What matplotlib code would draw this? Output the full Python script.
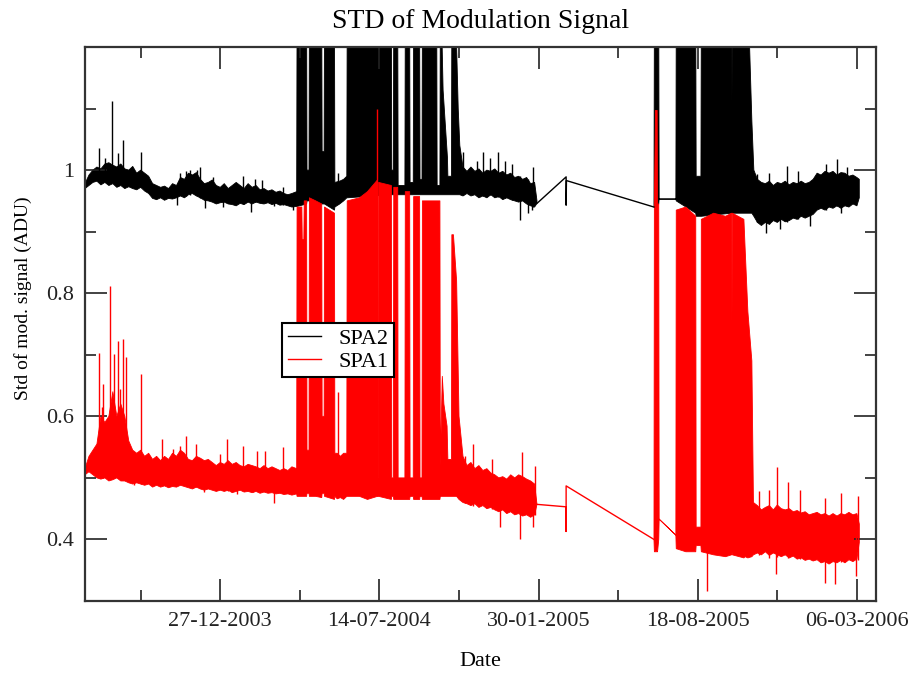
import numpy as np
import matplotlib
matplotlib.use('Agg')
import matplotlib.pyplot as plt
import matplotlib.dates as mdates
from matplotlib.ticker import FixedLocator, FuncFormatter

plt.rcParams['font.family'] = ['Liberation Serif', 'DejaVu Serif']

# all days are counted from 27-12-2003
base_date = '2003-12-27'
nan = np.nan

# SPA2: (day, low, high) of the noisy band, 1.25 = off the top of the plot
spa2_band = [
    (-170, 0.970, 0.978), (-165, 0.975, 0.992), (-160, 0.980, 1.000), (-155, 0.982, 1.005),
    (-150, 0.976, 1.002), (-145, 0.980, 1.010), (-140, 0.975, 1.012), (-135, 0.978, 1.008),
    (-130, 0.972, 1.005), (-125, 0.975, 1.010), (-120, 0.970, 1.002), (-115, 0.973, 1.000),
    (-110, 0.970, 1.006), (-105, 0.968, 0.995), (-100, 0.972, 1.000), (-95, 0.966, 0.995),
    (-90, 0.962, 0.990), (-85, 0.954, 0.978), (-80, 0.952, 0.975), (-75, 0.955, 0.972),
    (-70, 0.951, 0.974), (-65, 0.954, 0.970), (-60, 0.953, 0.978), (-55, 0.955, 0.975),
    (-50, 0.958, 0.988), (-45, 0.955, 0.985), (-40, 0.960, 0.995), (-35, 0.962, 0.992),
    (-30, 0.958, 0.996), (-25, 0.955, 0.985), (-20, 0.951, 0.978), (-15, 0.950, 0.980),
    (-10, 0.948, 0.984), (-5, 0.945, 0.975), (0, 0.947, 0.972), (5, 0.948, 0.978),
    (10, 0.945, 0.970), (15, 0.944, 0.975), (20, 0.942, 0.980), (25, 0.946, 0.975),
    (30, 0.944, 0.970), (35, 0.948, 0.978), (40, 0.945, 0.972), (45, 0.948, 0.975),
    (50, 0.946, 0.968), (55, 0.945, 0.970), (60, 0.947, 0.966), (65, 0.944, 0.968),
    (70, 0.946, 0.964), (75, 0.943, 0.966), (80, 0.944, 0.962), (85, 0.942, 0.960),
    (90, 0.940, 0.962), (96, 0.941, 0.965),
    (96.5, 0.941, 1.25), (108.5, 0.945, 1.25), (109, 0.950, 1.000), (111.5, 0.950, 1.000),
    (112, 0.950, 1.25), (127.5, 0.945, 1.25), (128, 0.945, 1.030), (130.5, 0.945, 1.030),
    (131, 0.945, 1.25), (143.5, 0.935, 1.25), (144, 0.940, 0.980), (150, 0.945, 0.982),
    (155, 0.950, 0.985), (159, 0.955, 0.990), (159.5, 0.955, 1.25), (215, 0.960, 1.25),
    (215.5, 0.960, 1.000), (217.5, 0.960, 1.000), (218, 0.960, 1.25), (223, 0.960, 1.25),
    (223.5, 0.960, 0.975), (232, 0.960, 0.975), (232.5, 0.960, 1.25), (238, 0.960, 1.25),
    (238.5, 0.960, 0.980), (242.5, 0.960, 0.980), (243, 0.960, 1.25), (250.5, 0.960, 1.25),
    (251, 0.960, 0.985), (253.5, 0.960, 0.985), (254, 0.960, 1.25), (272, 0.960, 1.25),
    (272.5, 0.960, 0.975), (276, 0.960, 0.975), (276.5, 0.960, 1.25), (278, 0.960, 1.25),
    (280, 0.960, 1.13), (284, 0.960, 1.05), (285.5, 0.960, 1.02), (286, 0.960, 0.990),
    (290.5, 0.960, 0.990), (291, 0.960, 1.25), (296, 0.960, 1.25), (299, 0.960, 1.10),
    (301, 0.960, 1.04),
    (305, 0.958, 1.005), (310, 0.962, 0.998), (315, 0.958, 1.005), (320, 0.960, 0.998),
    (325, 0.955, 1.002), (330, 0.958, 0.995), (335, 0.955, 1.000), (340, 0.960, 0.998),
    (345, 0.955, 1.002), (350, 0.957, 0.995), (355, 0.952, 0.998), (360, 0.955, 0.992),
    (365, 0.952, 0.995), (370, 0.950, 0.988), (375, 0.948, 0.990), (380, 0.950, 0.985),
    (385, 0.945, 0.988), (390, 0.942, 0.978), (395, 0.940, 0.980), (398, 0.946, 0.950),
    (470, nan, nan),
    (545, 0.940, 0.940), (545.5, 0.940, 1.25), (551, 0.945, 1.25), (551.5, 0.953, 0.953),
    (572.5, 0.953, 0.953), (573, 0.950, 1.25), (597.5, 0.930, 1.25), (598, 0.925, 0.990),
    (604, 0.925, 0.990), (604.5, 0.925, 1.25), (642.5, 0.930, 1.25), (643, 0.930, 1.105),
    (643.5, 0.930, 1.25), (664, 0.930, 1.25), (668, 0.930, 1.08), (670.5, 0.925, 1.000),
    (675, 0.915, 0.985), (680, 0.910, 0.980), (685, 0.915, 0.978), (690, 0.912, 0.982),
    (695, 0.918, 0.975), (700, 0.915, 0.980), (705, 0.920, 0.978), (710, 0.916, 0.982),
    (715, 0.918, 0.976), (720, 0.922, 0.980), (725, 0.920, 0.978), (730, 0.925, 0.982),
    (735, 0.922, 0.978), (740, 0.925, 0.980), (745, 0.928, 0.985), (750, 0.935, 0.995),
    (755, 0.938, 0.992), (760, 0.935, 0.998), (765, 0.940, 0.995), (770, 0.938, 0.998),
    (775, 0.942, 0.992), (780, 0.938, 0.996), (785, 0.942, 0.995), (790, 0.940, 0.990),
    (795, 0.945, 0.992), (800, 0.942, 0.988), (803, 0.955, 0.985),
]

# SPA2 single spikes: (day, low, high)
spa2_spikes = [
    (-153, 0.985, 1.036), (-145, 0.980, 1.020), (-136, 0.980, 1.112), (-128, 0.975, 1.028),
    (-122, 0.975, 1.049), (-100, 0.972, 1.030), (-54, 0.943, 0.970), (-50, 0.960, 0.995),
    (-43, 0.958, 0.998), (-38, 0.960, 1.000), (-29, 0.960, 1.000), (-25, 0.955, 1.005),
    (-19, 0.938, 0.970), (-9, 0.950, 0.989), (3, 0.940, 0.965), (29, 0.945, 0.990),
    (38, 0.932, 0.960), (44, 0.948, 0.985), (53, 0.947, 0.984), (67, 0.942, 0.965),
    (79, 0.944, 0.972), (92, 0.935, 0.960),
    (148, 0.945, 0.995), (305, 0.960, 1.030), (323, 0.958, 1.015), (330, 0.958, 1.030),
    (339, 0.960, 1.020), (349, 0.957, 1.030), (358, 0.955, 1.015), (367, 0.952, 1.010),
    (377, 0.919, 0.990), (387, 0.930, 0.985), (392, 0.935, 0.978), (393, 0.940, 1.005),
    (675, 0.915, 0.993), (686, 0.898, 0.975), (690, 0.912, 0.995), (703, 0.905, 0.975),
    (712, 0.916, 1.006), (726, 0.920, 0.998), (741, 0.910, 0.980), (761, 0.935, 1.010),
    (775, 0.942, 1.018), (780, 0.930, 0.990), (787, 0.942, 1.005),
]

# SPA2 straight stretch across the data gap
spa2_link_day = [398, 434.6, 434.6, 435, 545]
spa2_link_val = [0.946, 0.989, 0.943, 0.983, 0.940]

# SPA1: (day, low, high)
spa1_band = [
    (-170, 0.505, 0.515), (-165, 0.510, 0.535), (-160, 0.505, 0.545), (-155, 0.500, 0.555),
    (-150, 0.498, 0.600), (-145, 0.500, 0.590), (-140, 0.495, 0.600), (-135, 0.497, 0.640),
    (-130, 0.500, 0.600), (-125, 0.495, 0.620), (-120, 0.495, 0.600), (-115, 0.492, 0.560),
    (-110, 0.490, 0.545), (-105, 0.492, 0.540), (-100, 0.490, 0.545), (-95, 0.488, 0.535),
    (-90, 0.490, 0.540), (-85, 0.485, 0.530), (-80, 0.488, 0.535), (-75, 0.485, 0.528),
    (-70, 0.487, 0.535), (-65, 0.484, 0.530), (-60, 0.486, 0.540), (-55, 0.485, 0.535),
    (-50, 0.488, 0.545), (-45, 0.486, 0.540), (-40, 0.484, 0.530), (-35, 0.482, 0.528),
    (-30, 0.485, 0.535), (-25, 0.482, 0.532), (-20, 0.480, 0.528), (-15, 0.482, 0.530),
    (-10, 0.480, 0.525), (-5, 0.478, 0.520), (0, 0.480, 0.525), (5, 0.478, 0.522),
    (10, 0.480, 0.528), (15, 0.476, 0.522), (20, 0.478, 0.525), (25, 0.480, 0.520),
    (30, 0.477, 0.518), (35, 0.478, 0.522), (40, 0.476, 0.520), (45, 0.478, 0.518),
    (50, 0.475, 0.515), (55, 0.477, 0.520), (60, 0.475, 0.515), (65, 0.476, 0.518),
    (70, 0.474, 0.515), (75, 0.475, 0.512), (80, 0.473, 0.515), (85, 0.474, 0.512),
    (90, 0.472, 0.518), (96, 0.474, 0.515),
    (96.5, 0.470, 0.940), (102.5, 0.470, 0.940), (103, 0.470, 0.887), (105, 0.470, 0.887),
    (105.5, 0.470, 0.950), (108.5, 0.470, 0.950), (109, 0.475, 0.545), (111.5, 0.475, 0.545),
    (112, 0.470, 0.955), (120, 0.470, 0.950), (127.5, 0.468, 0.945), (128, 0.475, 0.600),
    (130.5, 0.475, 0.600), (131, 0.470, 0.940), (143.5, 0.465, 0.930), (144, 0.470, 0.540),
    (147, 0.466, 0.540), (151, 0.468, 0.535), (155, 0.465, 0.540), (159, 0.470, 0.540),
    (159.5, 0.470, 0.950), (175, 0.470, 0.955), (185, 0.465, 0.965), (197.5, 0.470, 0.984),
    (198, 0.470, 0.500), (198.5, 0.470, 0.500), (199, 0.470, 0.980), (215, 0.465, 0.975),
    (215.5, 0.470, 0.500), (217.5, 0.470, 0.500), (218, 0.465, 0.972), (223, 0.465, 0.972),
    (223.5, 0.465, 0.500), (232, 0.465, 0.500), (232.5, 0.465, 0.965), (238, 0.465, 0.965),
    (238.5, 0.470, 0.500), (242.5, 0.470, 0.500), (243, 0.465, 0.957), (250.5, 0.465, 0.957),
    (251, 0.470, 0.500), (253.5, 0.470, 0.500), (254, 0.465, 0.950), (276, 0.465, 0.950),
    (276.5, 0.470, 0.520), (279, 0.470, 0.665), (281, 0.470, 0.620), (285, 0.470, 0.584),
    (286, 0.470, 0.530), (290.5, 0.470, 0.530), (291, 0.470, 0.895), (293, 0.470, 0.895),
    (297, 0.470, 0.820), (300, 0.465, 0.600),
    (305, 0.460, 0.535), (310, 0.458, 0.520), (315, 0.455, 0.525), (320, 0.458, 0.515),
    (325, 0.452, 0.520), (330, 0.455, 0.512), (335, 0.450, 0.515), (340, 0.452, 0.508),
    (345, 0.448, 0.505), (350, 0.445, 0.500), (355, 0.448, 0.502), (360, 0.442, 0.498),
    (365, 0.445, 0.505), (370, 0.440, 0.500), (375, 0.442, 0.505), (380, 0.438, 0.502),
    (385, 0.440, 0.498), (390, 0.436, 0.495), (395, 0.440, 0.490), (398, 0.457, 0.457),
    (470, nan, nan),
    (545, 0.400, 0.400), (545.5, 0.380, 0.950), (547, 0.380, 1.097), (549, 0.380, 1.097),
    (549.5, 0.380, 0.945), (551, 0.400, 0.945), (551.5, 0.433, 0.433), (572.5, 0.407, 0.407),
    (573, 0.385, 0.935), (585, 0.380, 0.940), (597.5, 0.380, 0.925), (598, 0.390, 0.420),
    (604, 0.390, 0.420), (604.5, 0.380, 0.920), (620, 0.375, 0.930), (635, 0.372, 0.925),
    (642.5, 0.375, 0.930), (643, 0.380, 0.744), (643.5, 0.375, 0.930), (658, 0.370, 0.920),
    (659.5, 0.372, 0.874), (663, 0.370, 0.770), (668, 0.372, 0.690), (670, 0.375, 0.460),
    (675, 0.378, 0.455), (680, 0.375, 0.448), (685, 0.380, 0.452), (690, 0.374, 0.455),
    (695, 0.378, 0.448), (700, 0.375, 0.456), (705, 0.372, 0.450), (710, 0.375, 0.448),
    (715, 0.370, 0.450), (720, 0.373, 0.445), (725, 0.368, 0.447), (730, 0.370, 0.443),
    (735, 0.366, 0.445), (740, 0.368, 0.440), (745, 0.365, 0.442), (750, 0.367, 0.444),
    (755, 0.362, 0.440), (760, 0.364, 0.442), (765, 0.360, 0.438), (770, 0.364, 0.442),
    (775, 0.362, 0.438), (780, 0.366, 0.442), (785, 0.362, 0.440), (790, 0.367, 0.444),
    (795, 0.364, 0.440), (800, 0.368, 0.442), (803, 0.395, 0.425),
]

spa1_spikes = [
    (-153, 0.500, 0.703), (-149, 0.500, 0.615), (-147, 0.500, 0.652), (-138, 0.500, 0.812),
    (-134, 0.500, 0.702), (-128, 0.500, 0.723), (-126, 0.500, 0.644), (-122, 0.500, 0.726),
    (-118, 0.500, 0.697), (-109, 0.488, 0.520), (-100, 0.490, 0.668), (-73, 0.490, 0.563),
    (-59, 0.490, 0.547), (-50, 0.490, 0.552), (-43, 0.490, 0.568), (-31, 0.485, 0.555),
    (-21, 0.477, 0.510), (0, 0.482, 0.539), (9, 0.480, 0.563), (10, 0.479, 0.510),
    (21, 0.474, 0.500), (29, 0.480, 0.552), (41, 0.477, 0.505), (46, 0.480, 0.544),
    (56, 0.480, 0.544), (67, 0.460, 0.500), (79, 0.475, 0.550),
    (148, 0.470, 0.640), (196.5, 0.470, 1.100), (308, 0.460, 0.535),
    (317, 0.455, 0.555), (341, 0.450, 0.530), (352, 0.420, 0.490), (377, 0.400, 0.490),
    (379, 0.440, 0.542), (393, 0.420, 0.490), (396, 0.440, 0.520), (612, 0.317, 0.400),
    (677, 0.375, 0.478), (690, 0.370, 0.480), (698, 0.344, 0.420), (700, 0.372, 0.517),
    (714, 0.370, 0.493), (729, 0.368, 0.480), (760, 0.330, 0.467), (773, 0.328, 0.420),
    (780, 0.364, 0.475), (799, 0.340, 0.420), (801, 0.366, 0.470),
]

spa1_link_day = [398, 434.6, 434.6, 434.6, 545]
spa1_link_val = [0.457, 0.453, 0.413, 0.487, 0.400]

major_dates = ['2003-12-27', '2004-07-14', '2005-01-30', '2005-08-18', '2006-03-06']
minor_dates = ['2003-09-18', '2004-04-05', '2004-10-22', '2005-05-10', '2005-11-26']
y_major = [0.4, 0.6, 0.8, 1.0]
y_minor = [0.5, 0.7, 0.9, 1.1]

t0 = mdates.datestr2num(base_date)

fig = plt.figure(figsize=(9.12, 6.76), dpi=100)
ax = fig.add_axes([85 / 912, 1 - 601 / 676, 791 / 912, 554 / 676])


def draw(band, spikes, link_day, link_val, color, label):
    day, lo, hi = np.array(band).T
    ax.fill_between(t0 + day, lo, hi, color=color, linewidth=0.6)
    sd, slo, shi = np.array(spikes).T
    ax.vlines(t0 + sd, slo, shi, color=color, linewidth=1.0)
    ax.plot(t0 + np.array(link_day), link_val, color=color, linewidth=1.0, label=label)


draw(spa2_band, spa2_spikes, spa2_link_day, spa2_link_val, 'black', 'SPA2')
draw(spa1_band, spa1_spikes, spa1_link_day, spa1_link_val, '#ff0000', 'SPA1')

ax.set_xlim(t0 - 170, t0 + 824)
ax.set_ylim(0.3, 1.2)

ax.xaxis.set_major_locator(FixedLocator(mdates.datestr2num(major_dates)))
ax.xaxis.set_minor_locator(FixedLocator(mdates.datestr2num(minor_dates)))
ax.xaxis.set_major_formatter(mdates.DateFormatter('%d-%m-%Y'))
ax.yaxis.set_major_locator(FixedLocator(y_major))
ax.yaxis.set_minor_locator(FixedLocator(y_minor))
ax.yaxis.set_major_formatter(FuncFormatter(lambda v, p: '%g' % round(v, 2)))

ax.tick_params(which='both', direction='in', top=True, right=True, width=1.2,
               labelsize=16, colors='#222222')
ax.tick_params(which='major', length=16, pad=8)
ax.tick_params(which='minor', length=8)
for s in ax.spines.values():
    s.set_linewidth(1.6)
    s.set_color('#333333')

ax.set_title('STD of Modulation Signal', fontsize=20, pad=14)
ax.set_xlabel('Date', fontsize=16, labelpad=15)
ax.set_ylabel('Std of mod. signal (ADU)', fontsize=14)
ax.yaxis.set_label_coords(-0.067, 0.547)

leg = ax.legend(loc='upper left', bbox_to_anchor=(0.249, 0.502), fontsize=16,
                frameon=True, fancybox=False, framealpha=1, edgecolor='black',
                handlelength=1.5, handletextpad=0.8, borderpad=0.25,
                labelspacing=0.1, borderaxespad=0)
leg.get_frame().set_linewidth(1.5)

fig.savefig('out.png', dpi=100)
